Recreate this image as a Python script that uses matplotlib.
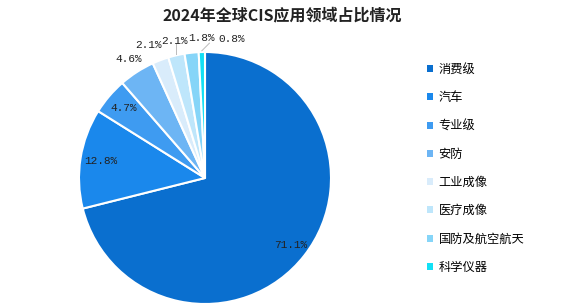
import numpy as np
import matplotlib.pyplot as plt
from matplotlib.patches import Patch
from matplotlib.lines import Line2D

plt.rcParams['font.family'] = ['Noto Sans CJK SC', 'DejaVu Sans']

# data
categories = ['消费级', '汽车', '专业级', '安防', '工业成像', '医疗成像', '国防及航空航天', '科学仪器']
shares = [71.1, 12.8, 4.7, 4.6, 2.1, 2.1, 1.8, 0.8]
colors = ['#0A6FCF', '#1A88EC', '#3E9BF1', '#6DB5F4', '#D9ECFB', '#BEE6FB', '#86D5F8', '#12E0F5']

W, H = 564, 305
fig = plt.figure(figsize=(W / 100, H / 100), dpi=100)

# pie centre (205, 178) px from top-left, radius 126 px
cx, cy, r = 205, H - 178, 126
ax = fig.add_axes([(cx - r) / W, (cy - r) / H, 2 * r / W, 2 * r / H])

wedges, _ = ax.pie(shares, colors=colors, startangle=90, counterclock=False,
                   radius=1, wedgeprops=dict(edgecolor='white', linewidth=1.5))
ax.set_xlim(-1, 1)
ax.set_ylim(-1, 1)
ax.axis('off')

# label placement: inside for the big slices, outside for the small ones
label_font = dict(family=['Liberation Mono', 'DejaVu Sans Mono'], fontsize=8, color='#222222')
dist = [0.86, 0.84, 0.85, 1.12, 1.13, 1.12, 1.12, 1.10]
shift = [0, 0, 0, 0, -0.05, 0.01, 0.09, 0.24]
for i, (w, v) in enumerate(zip(wedges, shares)):
    ang = np.deg2rad((w.theta1 + w.theta2) / 2)
    x = dist[i] * np.cos(ang) + shift[i]
    y = dist[i] * np.sin(ang)
    ax.text(x, y, f'{v}%', ha='center', va='center', **label_font)

# leader lines for the crowded thin slices
for i, dx, top in [(5, 0.0, 1.07), (7, 0.06, 1.07)]:
    w = wedges[i]
    ang = np.deg2rad((w.theta1 + w.theta2) / 2)
    sx, sy = np.cos(ang), np.sin(ang)
    ax.add_line(Line2D([sx, sx + dx], [sy + 0.01, top], color='#BBBBBB', lw=0.7, clip_on=False))

# legend
handles = [Patch(facecolor=c, edgecolor='none') for c in colors]
fig.legend(handles, categories, loc='upper left', bbox_to_anchor=(422 / W, 1 - 58 / H),
           frameon=False, fontsize=8.8, handlelength=0.5, handleheight=0.5,
           handletextpad=0.45, labelspacing=1.25, borderaxespad=0)

fig.text(282 / W, 1 - 15 / H, '2024年全球CIS应用领域占比情况', ha='center', va='center',
         fontsize=11.5, fontweight='bold', color='#222222')

fig.savefig('out.png', dpi=100)
